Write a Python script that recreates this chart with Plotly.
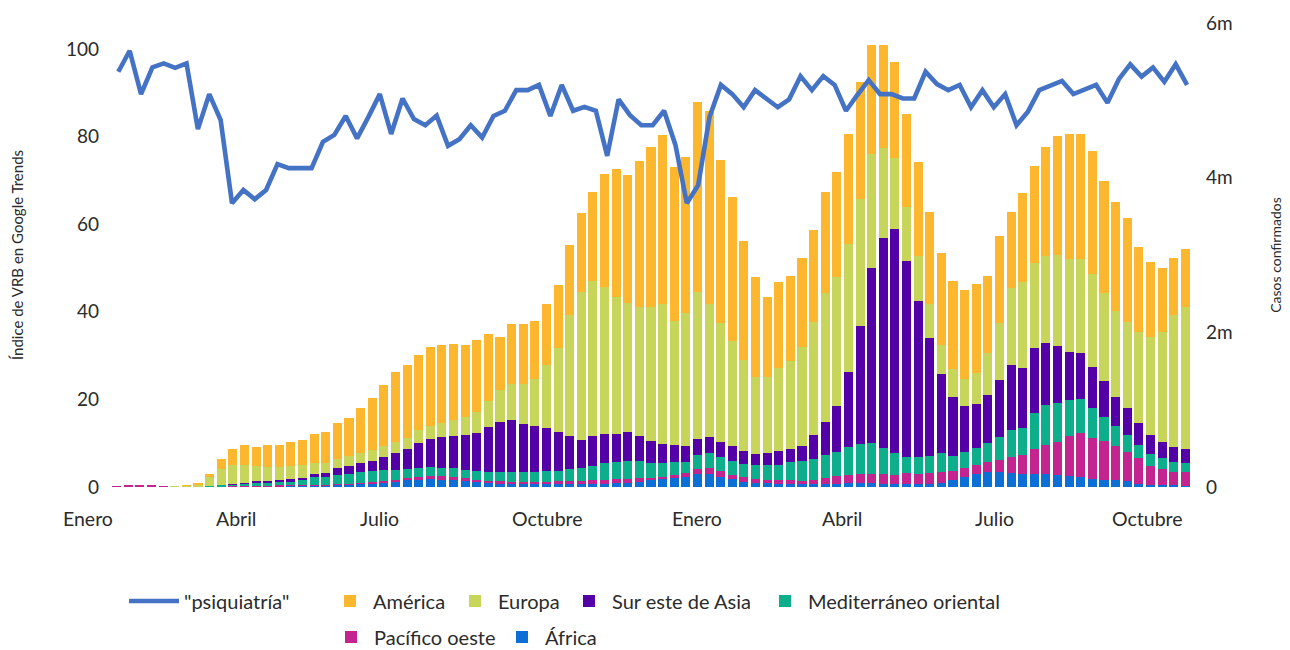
import plotly.graph_objects as go

# ---------------- data ----------------
# Google Trends index for "psiquiatría" (weekly)
psiquiatria = [
    94.8, 99.6, 89.7, 95.8, 96.7, 95.7, 96.7, 81.7, 89.7, 83.8,
    64.8, 67.8, 65.7, 67.8, 73.7, 72.8, 72.8, 72.8, 78.8, 80.4,
    84.7, 79.6, 84.5, 89.7, 80.6, 88.7, 84.0, 82.6, 84.8, 77.9,
    79.4, 82.6, 79.8, 84.7, 85.9, 90.6, 90.6, 91.8, 84.7, 91.8,
    85.9, 86.8, 85.9, 75.6, 88.5, 84.9, 82.6, 82.6, 85.9, 78.1,
    64.8, 68.9, 84.5, 91.8, 89.7, 86.7, 90.6, 88.7, 86.7, 88.5,
    93.8, 90.6, 93.8, 91.8, 85.9, 89.5, 92.9, 89.7, 89.7, 88.7,
    88.7, 94.8, 92.0, 90.6, 91.8, 86.7, 90.6, 86.7, 89.7, 82.6,
    85.7, 90.6, 91.6, 92.7, 89.7, 90.8, 91.8, 87.7, 93.1, 96.5,
    93.7, 95.8, 92.5, 96.5, 91.8,
]

# Weekly confirmed cases by WHO region (thousands)
africa = [
    0, 0, 0, 0, 0, 0, 0, 0, 1, 2,
    4, 6, 8, 10, 12, 14, 16, 18, 22, 27,
    33, 40, 50, 60, 72, 85, 95, 100, 95, 85,
    75, 62, 50, 45, 40, 36, 33, 33, 35, 38,
    40, 42, 45, 50, 56, 69, 91, 100, 120, 133,
    164, 164, 133, 100, 69, 56, 48, 45, 42, 40,
    40, 42, 45, 48, 50, 52, 45, 42, 38, 38,
    38, 56, 91, 126, 168, 198, 198, 185, 168, 168,
    168, 155, 142, 133, 100, 91, 91, 81, 39, 30,
    22, 20, 18,
]
pacifico = [
    5, 15, 20, 22, 10, 7, 6, 5, 5, 7,
    9, 10, 10, 9, 8, 7, 6, 6, 7, 8,
    9, 10, 12, 15, 20, 28, 35, 40, 45, 45,
    40, 35, 32, 30, 30, 30, 32, 35, 38, 40,
    42, 45, 50, 55, 48, 44, 30, 30, 35, 52,
    69, 78, 78, 56, 65, 48, 43, 43, 43, 43,
    52, 78, 94, 107, 120, 120, 129, 116, 142, 129,
    146, 142, 120, 116, 116, 129, 151, 199, 246, 320,
    375, 431, 518, 562, 538, 505, 440, 375, 333, 246,
    216, 172, 181,
]
mediterraneo = [
    0, 0, 0, 0, 0, 1, 3, 6, 12, 20,
    25, 27, 40, 42, 45, 50, 68, 102, 100, 120,
    130, 140, 140, 140, 130, 125, 120, 115, 110, 110,
    110, 110, 110, 115, 120, 125, 130, 135, 140, 150,
    160, 180, 210, 220, 232, 223, 193, 177, 165, 142,
    177, 194, 181, 184, 160, 177, 190, 197, 235, 257,
    274, 290, 318, 367, 386, 393, 327, 286, 205, 218,
    217, 246, 190, 215, 217, 246, 302, 354, 346, 466,
    518, 505, 466, 444, 380, 314, 258, 217, 171, 151,
    133, 135, 108,
]
sur_este_asia = [
    0, 0, 0, 0, 0, 0, 0, 0, 1, 3,
    5, 8, 18, 22, 26, 32, 30, 38, 48, 87,
    100, 117, 138, 177, 222, 250, 323, 362, 393, 420,
    448, 496, 581, 655, 677, 624, 594, 557, 495, 432,
    366, 393, 377, 357, 372, 324, 285, 249, 223, 207,
    211, 207, 194, 190, 176, 146, 163, 181, 168, 194,
    307, 435, 595, 971, 1527, 2265, 2717, 2891, 2540, 2022,
    1523, 1014, 767, 591, 573, 611, 727, 841, 776, 841,
    798, 734, 617, 595, 538, 462, 379, 353, 281, 246,
    215, 186, 181,
]
europa = [
    0, 0, 0, 0, 0, 1, 8, 25, 110, 200,
    242, 234, 196, 180, 164, 169, 165, 143, 130, 124,
    129, 137, 139, 139, 140, 150, 165, 175, 185, 205,
    230, 270, 344, 410, 462, 514, 604, 819, 1095, 1566,
    1919, 2006, 1910, 1781, 1669, 1673, 1734, 1812, 1608, 1713,
    1898, 1721, 1532, 1363, 1174, 992, 976, 1070, 1146, 1273,
    1466, 1661, 1661, 1649, 1639, 1479, 1162, 919, 699, 582,
    444, 379, 355, 346, 397, 554, 740, 1000, 1121, 1100,
    1130, 1178, 1203, 1216, 1196, 1135, 1113, 1113, 1185, 1272,
    1423, 1712, 1845,
]
america = [
    0, 0, 0, 0, 0, 0, 1, 4, 35, 130,
    207, 258, 249, 280, 288, 310, 323, 379, 409, 466,
    488, 574, 669, 789, 905, 941, 969, 1020, 1009, 986,
    934, 929, 863, 690, 776, 776, 754, 789, 811, 897,
    1014, 1148, 1458, 1652, 1660, 1889, 2063, 2187, 1993, 2019,
    2459, 2492, 2113, 1863, 1540, 1294, 1043, 1113, 1096, 1152,
    1187, 1307, 1354, 1423, 1514, 1404, 1339, 1237, 1203, 1220,
    1194, 1194, 1143, 1156, 1152, 996, 1130, 983, 1144, 1259,
    1414, 1531, 1618, 1618, 1599, 1453, 1410, 1338, 1100, 963,
    820, 734, 743,
]

region_names = ["África", "Pacífico oeste", "Mediterráneo oriental",
                "Sur este de Asia", "Europa", "América"]
line_name = '"psiquiatría"'

month_labels = ["Enero", "Abril", "Julio", "Octubre",
                "Enero", "Abril", "Julio", "Octubre"]
month_pos = [-1.47, 11.27, 23.63, 38.09, 51.0, 63.45, 76.57, 89.79]  # in bar-week units

left_tick_vals = [0, 20, 40, 60, 80, 100]
right_tick_vals = [0, 2000, 4000, 6000]          # thousands of cases
right_tick_text = ["0", "2m", "4m", "6m"]

left_title = "Índice de VRB en Google Trends"
right_title = "Casos confirmados"

# ---------------- layout constants (page pixels) ----------------
PAGE_W, PAGE_H = 1290, 650
OFF = 8                          # default body margin of the html page
W, H = PAGE_W - OFF, PAGE_H - OFF
PL, PR, PT, PB = 100, 1205, 23, 487
PW, PH = PR - PL, PB - PT
BAR0, BARP = 116.7, 11.615      # page px centre of first bar, bar pitch
LIN0, LINP = 118.3, 11.37       # page px of first line point, line pitch
LEFT_MAX = (PB - PT) / 4.38     # left axis value at top of plot
FONT = "Lato"
TXT = "#2b2b2b"

colors = {
    "África": "#0B6FD6",
    "Pacífico oeste": "#C4248F",
    "Mediterráneo oriental": "#0CAE8B",
    "Sur este de Asia": "#5300A6",
    "Europa": "#C8D55B",
    "América": "#FDB72F",
}
line_color = "#4472C4"


def paper_x(px):
    return (px - PL) / PW


def paper_y(py):
    return (PB - py) / PH


n_bars = len(america)
bar_weeks = list(range(1, n_bars + 1))
line_weeks = list(range(1, len(psiquiatria) + 1))

xr_bar0 = 1 - (BAR0 - PL) / BARP
xr_bar = [xr_bar0, xr_bar0 + PW / BARP]
xr_lin0 = 1 - (LIN0 - PL) / LINP
xr_line = [xr_lin0, xr_lin0 + PW / LINP]

series = {
    "África": africa,
    "Pacífico oeste": pacifico,
    "Mediterráneo oriental": mediterraneo,
    "Sur este de Asia": sur_este_asia,
    "Europa": europa,
    "América": america,
}

# legend assignment and item positions (square centre px, row centre py)
ROW1, ROW2 = 601, 637
legend_slots = {
    "América": ("legend2", 350, ROW1),
    "Europa": ("legend3", 475, ROW1),
    "Sur este de Asia": ("legend4", 589, ROW1),
    "Mediterráneo oriental": ("legend5", 785, ROW1),
    "Pacífico oeste": ("legend6", 351, ROW2),
    "África": ("legend7", 522, ROW2),
}

fig = go.Figure()
for name in region_names:
    fig.add_trace(go.Bar(
        x=bar_weeks, y=series[name], name=name,
        marker=dict(color=colors[name], line=dict(width=0)),
        width=0.78, xaxis="x", yaxis="y",
        legend=legend_slots[name][0],
        hovertemplate=name + ": %{y}k<extra></extra>",
    ))

fig.add_trace(go.Scatter(
    x=line_weeks, y=psiquiatria, name=line_name, mode="lines",
    line=dict(color=line_color, width=4.6, shape="linear"),
    xaxis="x2", yaxis="y2", legend="legend",
))

legend_font = dict(family=FONT, size=20, color=TXT)
legends = {}
ITEMW = 36
for name, (lg, cx, cy) in legend_slots.items():
    start = cx - (ITEMW + 10) / 2
    legends[lg] = dict(
        x=paper_x(start), y=paper_y(cy), xanchor="left", yanchor="middle",
        orientation="h", itemwidth=ITEMW, font=legend_font,
        bgcolor="rgba(0,0,0,0)", borderwidth=0,
    )
legends["legend"] = dict(
    x=paper_x(124), y=paper_y(ROW1), xanchor="left", yanchor="middle",
    orientation="h", itemwidth=50, font=legend_font,
    bgcolor="rgba(0,0,0,0)", borderwidth=0,
)

annotations = []
for lab, pos in zip(month_labels, month_pos):
    px = BAR0 + (pos - 1) * BARP
    annotations.append(dict(
        text=lab, x=paper_x(px), y=paper_y(519), xref="paper", yref="paper",
        xanchor="center", yanchor="middle", showarrow=False,
        font=dict(family=FONT, size=19.5, color=TXT),
    ))

fig.update_layout(
    width=W, height=H,
    margin=dict(l=PL - OFF, r=PAGE_W - PR, t=PT - OFF, b=PAGE_H - PB,
                autoexpand=False),
    paper_bgcolor="white", plot_bgcolor="white",
    barmode="stack", bargap=0,
    showlegend=True,
    font=dict(family=FONT, color=TXT),
    xaxis=dict(range=xr_bar, showticklabels=False, showgrid=False,
               zeroline=False, showline=False, ticks=""),
    xaxis2=dict(range=xr_line, overlaying="x", visible=False),
    yaxis=dict(side="right", range=[0, 6000], tickvals=right_tick_vals,
               ticktext=right_tick_text, showgrid=False, zeroline=False,
               showline=False, ticks="",
               tickfont=dict(family=FONT, size=19, color=TXT),
               title=dict(text=right_title, standoff=39,
                          font=dict(family=FONT, size=14, color=TXT))),
    yaxis2=dict(overlaying="y", side="left", anchor="x", range=[0, LEFT_MAX],
                tickvals=left_tick_vals, showgrid=False, zeroline=False,
                showline=False, ticks="",
                tickfont=dict(family=FONT, size=19, color=TXT),
                title=dict(text=left_title, standoff=40,
                           font=dict(family=FONT, size=15, color=TXT))),
    annotations=annotations,
    **legends,
)

fig.write_html("out.html")
